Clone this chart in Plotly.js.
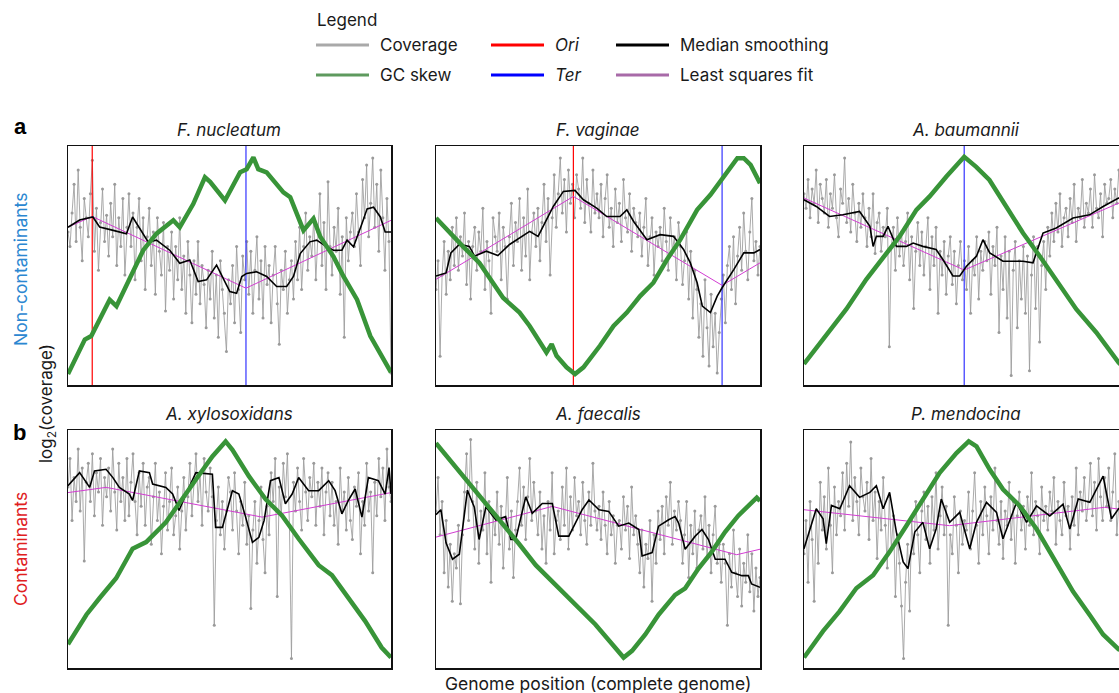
<!DOCTYPE html>
<html><head><meta charset="utf-8">
<script src="https://cdn.plot.ly/plotly-3.0.1.min.js"></script>
<style>html,body{margin:0;padding:0;overflow:hidden;background:#fff}#plot{width:1140px;height:693px}</style>
</head><body><div id="plot"></div>
<script>
// ---------- DATA (genome position 0..1, coverage/skew in relative units 0..100) ----------
const panelNames = ["F. nucleatum","F. vaginae","A. baumannii","A. xylosoxidans","A. faecalis","P. mendocina"];

const coverageNucleatum = [64,58,72,84,60,90,66,52,78,70, 62,80,94,56,74,48,68,82,60,71, 54,76,62,84,50,70,58,78,46,66, 80,58,72,44,66,78,52,70,40,62, 74,50,64,38,70,56,46,68,31,58, 48,64,36,58,44,70,40,54,30,60, 46,26,52,38,60,34,50,42,24,48, 36,56,28,46,20,52,40,30,14,44, 34,50,26,58,40,22,54,44,60,38, 56,30,48,62,36,52,28,58,42,50, 26,46,58,34,17,48,40,56,30,44, 52,36,60,44,66,40,58,72,48,62, 54,70,44,64,80,50,68,40,85,58, 46,66,56,74,38,62,20,70,52,64, 72,58,80,64,50,86,70,92,62,76, 95,66,84,56,90,70,48,78,60,5];
const coverageVaginae = [40,52,12,46,60,38,56,44,66,50, 70,48,62,54,72,42,60,36,58,66, 48,64,56,74,40,60,52,30,70,62, 56,72,44,66,58,36,62,76,50,68, 60,78,48,70,54,82,44,64,72,58, 74,52,68,84,60,78,46,70,88,66, 80,95,72,86,64,90,76,84,70,88, 82,74,95,68,86,76,64,90,72,80, 70,84,62,78,88,66,74,58,82,68, 76,60,86,70,64,80,56,74,68,62, 72,54,66,78,50,62,70,46,64,58, 66,52,74,60,48,70,56,62,44,68, 58,42,52,64,36,56,28,48,40,20, 34,12,44,24,8,38,16,30,5,22, 36,46,26,50,58,40,62,34,54,66, 48,72,56,44,64,78,52,60,46,58];
const coverageBaumannii = [80,74,86,70,82,76,90,68,84,78, 72,86,66,80,74,88,70,62,82,76, 95,68,78,64,84,72,60,76,66,80, 70,58,74,62,80,55,68,72,56,66, 62,74,16,58,66,48,70,54,64,50, 60,72,44,62,32,56,68,50,64,46, 58,70,40,62,50,66,30,56,46,60, 38,54,62,42,56,34,50,60,44,52, 40,58,30,52,46,62,36,56,48,60, 52,64,38,58,50,66,22,54,40,62, 28,56,4,48,60,24,52,36,58,30, 54,6,46,62,32,58,18,50,60,40, 66,54,72,60,76,64,80,58,70,74, 62,78,68,84,60,74,70,86,66,76, 72,82,66,88,74,70,80,62,84,76, 78,86,70,82,76,90,74,84,80,78];
const coverageXylosoxidans = [76,88,62,80,70,92,66,84,45,78, 86,70,90,64,82,74,88,60,80,72, 84,66,92,74,58,86,70,80,62,88, 64,78,90,70,56,82,68,86,60,76, 80,52,72,86,62,74,48,68,82,58, 70,84,56,64,76,50,66,80,58,72, 86,64,78,90,70,82,60,88,74,66, 84,72,18,62,76,56,70,50,66,80, 74,58,82,66,48,70,60,78,52,64, 25,58,70,44,62,76,54,40,68,56, 82,70,88,30,76,64,86,72,90,60, 4,78,66,84,70,58,88,74,62,80, 72,86,60,78,68,84,56,74,82,64, 78,60,70,52,84,66,74,58,80,62, 54,76,68,82,48,70,60,86,66,74, 40,78,64,88,72,84,62,92,76,70];
const coverageFaecalis = [66,80,56,70,40,62,34,52,28,48, 42,60,27,56,74,90,62,96,70,50, 78,44,66,58,82,48,70,36,64,56, 74,52,68,42,60,80,50,66,38,58, 70,84,60,76,54,72,88,62,78,66, 56,74,50,64,44,70,58,82,48,62, 66,54,76,60,84,50,72,58,80,64, 70,56,78,62,52,74,60,86,66,58, 68,54,74,60,48,70,56,64,44,60, 62,50,72,58,68,46,76,56,64,52, 40,58,34,52,46,62,28,56,44,66, 54,68,48,72,60,78,52,66,58,70, 62,44,56,70,38,60,48,66,42,58, 64,50,72,46,60,40,56,68,44,52, 36,52,44,18,48,34,58,40,30,50, 26,44,36,56,32,48,24,42,30,38];
const coverageMendocina = [48,62,36,70,54,28,66,44,78,58, 72,50,84,60,40,76,56,70,64,82, 58,86,68,95,62,80,70,56,84,72, 66,78,54,88,62,74,46,70,58,80, 60,42,72,50,64,30,56,44,26,4, 36,52,24,62,48,70,56,40,66,74, 54,68,44,72,58,82,50,64,76,56, 68,18,56,48,72,60,40,66,52,62, 58,74,50,66,82,60,44,70,56,76, 64,48,72,58,84,62,52,70,46,66, 60,78,54,70,44,64,74,58,68,50, 72,60,82,56,70,64,48,76,62,68, 58,74,66,80,52,70,62,56,78,64, 68,50,72,60,84,56,74,66,80,62, 70,86,64,78,58,88,72,62,80,68, 84,62,74,90,56,70,64,78,60,68];

const medianNucleatum = [[0,66],[.011,67],[.036,69],[.077,70.3],[.098,66.1],[.14,64.7],[.181,63.3],[.2,70.3],[.222,65.4],[.248,59.9],[.274,60.6],[.315,56.4],[.346,50.9],[.377,52.3],[.403,43.3],[.429,44],[.46,50.2],[.501,39.1],[.522,38.4],[.538,45.4],[.553,46.7],[.584,47.4],[.615,45.4],[.646,41.2],[.677,41.2],[.698,45.4],[.719,55],[.749,59.9],[.77,60.6],[.801,57.8],[.822,56.4],[.848,56.4],[.864,60.6],[.884,57.8],[.91,67.5],[.926,73.7],[.946,74.4],[.967,70.3],[.982,64],[1,64]];
const medianVaginae = [[0,45.6],[.031,46.9],[.046,55.3],[.072,58.8],[.103,58],[.119,53.9],[.155,56],[.191,54.2],[.227,58.8],[.258,61.5],[.289,64.3],[.315,62.2],[.341,69.1],[.362,74.7],[.393,81],[.429,81.4],[.455,77.5],[.496,74],[.527,70.5],[.568,70.5],[.589,73.3],[.61,68.4],[.651,60.8],[.692,62.9],[.733,62.2],[.764,56.7],[.785,51.1],[.806,42.8],[.822,33],[.847,30.3],[.868,37.2],[.883,40.7],[.919,48.3],[.95,55.3],[.981,55.3],[1,56.7]];
const medianBaumannii = [[0,77.5],[.038,74.7],[.079,70.5],[.12,71.2],[.172,72.6],[.204,66.4],[.214,58],[.224,62.2],[.245,62.2],[.26,66.4],[.286,58],[.317,58],[.338,59.4],[.368,58],[.409,56.7],[.43,52.5],[.461,45.6],[.482,45.6],[.503,49.7],[.534,53.9],[.554,60.8],[.575,55.3],[.616,51.8],[.678,51.8],[.709,51.1],[.74,63.6],[.781,65.7],[.833,69.9],[.884,71.2],[.926,74.7],[.974,78.2],[1,79]];
const medianXylosoxidans = [[0,76.6],[.036,82.1],[.067,75.9],[.082,82.8],[.118,83.5],[.139,80],[.159,75.9],[.19,73.1],[.2,70.4],[.221,82.8],[.252,82.1],[.262,77.3],[.303,75.9],[.324,73.1],[.344,66.2],[.365,73.1],[.396,82.1],[.447,81.4],[.457,59.1],[.478,59.1],[.509,74.5],[.529,73.1],[.55,63.4],[.571,52.8],[.591,54.9],[.607,61.9],[.627,78.7],[.653,80],[.673,69],[.694,73.1],[.714,80],[.745,74.5],[.776,74.5],[.807,78.7],[.827,74.5],[.848,64.8],[.868,70.4],[.889,75.2],[.91,63.4],[.93,80],[.961,78.7],[.982,73.1],[.994,84.2],[1,73.1]];
const medianFaecalis = [[0,64.4],[.015,66.5],[.031,52.6],[.051,45.7],[.072,47.8],[.097,74.7],[.118,67.7],[.133,54],[.154,67.7],[.185,62.2],[.215,63.6],[.231,54],[.246,54],[.277,71.9],[.297,65],[.328,69.1],[.359,69.1],[.379,55.4],[.41,55.4],[.431,60.9],[.451,66.5],[.472,70.6],[.503,66.5],[.533,65.8],[.564,59.6],[.595,60.9],[.626,58.2],[.636,47.1],[.667,48.5],[.687,59.6],[.718,62.3],[.738,63.6],[.749,60.9],[.769,49.9],[.8,55.4],[.821,58.2],[.841,54],[.862,45.7],[.892,45.7],[.913,40.2],[.944,38.8],[.964,38.8],[.974,35.3],[1,33.9]];
const medianMendocina = [[0,50.1],[.018,58.4],[.038,66.9],[.059,62.7],[.069,52.2],[.085,68.3],[.111,66.9],[.141,76.6],[.172,71.7],[.204,73.8],[.224,76.6],[.245,66.9],[.265,73.8],[.286,57.1],[.307,44.6],[.322,41.8],[.343,57.1],[.368,61.2],[.389,50.1],[.409,58.4],[.425,71],[.451,61.2],[.482,65.4],[.513,50.1],[.534,61.2],[.565,69.6],[.596,65.4],[.616,54.3],[.658,69.6],[.689,61.2],[.72,68.1],[.761,63.9],[.802,68.8],[.823,58.4],[.849,71],[.885,69.6],[.926,80.6],[.952,62.7],[.974,66.9],[1,66]];

const fitNucleatum = [[0,66.1],[.075,70.5],[.551,40.5],[1,68.9]];
const fitVaginae = [[0,44.2],[.424,78.9],[.883,41.7],[1,51.1]];
const fitBaumannii = [[0,78.2],[.496,48.1],[1,77.6]];
const fitXylosoxidans = [[0,73.7],[.118,75.9],[.601,63.4],[1,73.7]];
const fitFaecalis = [[0,55],[.359,67.9],[.928,47.6],[1,49.9]];
const fitMendocina = [[0,66.5],[.451,59.8],[.93,67.5],[1,66.4]];

const gcNucleatum = [[0,4.6],[.052,19],[.072,20.5],[.129,35.7],[.15,33],[.2,46.7],[.233,56.4],[.274,63.3],[.326,68.9],[.346,66],[.388,75.8],[.424,86.9],[.44,85],[.486,77.2],[.512,83.4],[.533,89],[.553,90.3],[.574,95.2],[.589,90.3],[.615,89],[.667,80.6],[.688,78.6],[.729,64.7],[.76,69.6],[.781,62],[.822,53.7],[.853,45.4],[.895,35.7],[.936,20.5],[.977,10.8],[1,5.3]];
const gcVaginae = [[0,69.9],[.052,62.2],[.083,58],[.134,51.1],[.207,36.5],[.258,30.3],[.289,24.7],[.341,13.6],[.357,17.1],[.372,12.2],[.403,7.4],[.429,4.6],[.455,7.4],[.506,16.4],[.548,24.7],[.589,30.3],[.63,37.2],[.671,42.8],[.713,52.5],[.754,60.8],[.806,73.3],[.847,79.6],[.888,87.2],[.93,94.9],[.95,94.9],[.971,92.1],[1,84.4]];
const gcBaumannii = [[0,8.8],[.059,19.2],[.131,31.7],[.193,44.2],[.245,53.2],[.296,62.2],[.348,73.3],[.389,78.9],[.441,87.2],[.472,92.1],[.496,95.5],[.533,91.3],[.574,85.8],[.626,74.7],[.678,63.6],[.73,53.9],[.781,44.2],[.843,31.7],[.905,22],[.974,9.4],[1,6]];
const gcXylosoxidans = [[0,10],[.057,22.4],[.098,29.4],[.149,37.7],[.2,50.1],[.242,52.9],[.303,61.2],[.344,69.5],[.396,79.2],[.447,88.9],[.488,95.2],[.509,91.7],[.56,80.6],[.612,70.9],[.663,64],[.714,54.3],[.776,43.2],[.817,39],[.868,29.4],[.92,19.7],[.971,8.6],[1,4.4]];
const gcFaecalis = [[0,94.5],[.051,86.1],[.103,77.8],[.154,69.5],[.205,61.2],[.256,52.2],[.308,43.2],[.359,36.3],[.4,30.7],[.441,25.2],[.492,18.3],[.544,10],[.579,4.4],[.605,7.2],[.646,14.1],[.687,22.4],[.738,30.7],[.769,33.5],[.81,41.8],[.851,48.8],[.892,57.1],[.933,64],[.974,69.5],[.99,71.6],[1,70.2]];
const gcMendocina = [[0,4.4],[.059,15.5],[.11,23.8],[.162,33.5],[.214,39],[.265,48.8],[.317,59.8],[.368,70.9],[.42,82],[.472,90.3],[.51,95.2],[.534,93.1],[.575,83.4],[.616,75.1],[.668,68.1],[.72,58.4],[.781,44.6],[.833,32.1],[.884,22.4],[.926,14.1],[.974,7.9],[1,6.5]];

const oriPositions = [0.075, 0.424, null, null, null, null];
const terPositions = [0.551, 0.883, 0.496, null, null, null];

const coverageSets = [coverageNucleatum,coverageVaginae,coverageBaumannii,coverageXylosoxidans,coverageFaecalis,coverageMendocina];
const medianSets = [medianNucleatum,medianVaginae,medianBaumannii,medianXylosoxidans,medianFaecalis,medianMendocina];
const fitSets = [fitNucleatum,fitVaginae,fitBaumannii,fitXylosoxidans,fitFaecalis,fitMendocina];
const gcSets = [gcNucleatum,gcVaginae,gcBaumannii,gcXylosoxidans,gcFaecalis,gcMendocina];

// ---------- LAYOUT ----------
const W = 1140, H = 693;
const px = v => v / W, py = v => 1 - v / H;
const colsPx = [[68,391],[436,760],[804,1127]];
const rowsPx = [[146,385],[430,668]];
const FONT = "Inter, Roboto, 'DejaVu Sans', sans-serif";

const traces = [];
const layout = {
  width: W, height: H, margin: {l:0,r:0,t:0,b:0},
  paper_bgcolor: "#fff", plot_bgcolor: "#fff", showlegend: false,
  font: {family: FONT, color: "#1a1a1a"},
  annotations: [], shapes: []
};

for (let i = 0; i < 6; i++) {
  const r = Math.floor(i / 3), c = i % 3;
  const n = i + 1;
  const xa = "x" + (n === 1 ? "" : n), ya = "y" + (n === 1 ? "" : n);
  const axSpec = {showgrid:false, zeroline:false, showticklabels:false, ticks:"", showline:true, mirror:true, linecolor:"#111", linewidth:1.5, fixedrange:true};
  layout["xaxis" + (n === 1 ? "" : n)] = Object.assign({}, axSpec, {domain:[px(colsPx[c][0]), px(colsPx[c][1])], range:[0,1], anchor: ya});
  layout["yaxis" + (n === 1 ? "" : n)] = Object.assign({}, axSpec, {domain:[py(rowsPx[r][1]), py(rowsPx[r][0])], range:[0,100], anchor: xa});

  const cov = coverageSets[i];
  const covX = cov.map((_, k) => k / (cov.length - 1));
  traces.push({x: covX, y: cov, xaxis: xa, yaxis: ya, mode: "lines+markers", type: "scatter",
    line: {color: "rgba(155,155,155,0.85)", width: 1}, marker: {color: "#9a9a9a", size: 3}, hoverinfo: "skip"});
  if (oriPositions[i] !== null) traces.push({x:[oriPositions[i],oriPositions[i]], y:[0,100], xaxis:xa, yaxis:ya, mode:"lines", line:{color:"#ff0000", width:1.2}, hoverinfo:"skip"});
  if (terPositions[i] !== null) traces.push({x:[terPositions[i],terPositions[i]], y:[0,100], xaxis:xa, yaxis:ya, mode:"lines", line:{color:"#3333ff", width:1.2}, hoverinfo:"skip"});
  traces.push({x: fitSets[i].map(p=>p[0]), y: fitSets[i].map(p=>p[1]), xaxis: xa, yaxis: ya, mode:"lines", line:{color:"#d23cd2", width:1}, hoverinfo:"skip"});
  traces.push({x: medianSets[i].map(p=>p[0]), y: medianSets[i].map(p=>p[1]), xaxis: xa, yaxis: ya, mode:"lines", line:{color:"#000", width:1.6}, hoverinfo:"skip"});
  traces.push({x: gcSets[i].map(p=>p[0]), y: gcSets[i].map(p=>p[1]), xaxis: xa, yaxis: ya, mode:"lines", line:{color:"#389438", width:4.5}, hoverinfo:"skip"});

  layout.annotations.push({text: "<i>" + panelNames[i] + "</i>", xref:"paper", yref:"paper",
    x: px((colsPx[c][0] + colsPx[c][1]) / 2), y: py(rowsPx[r][0] - 16), showarrow:false,
    font:{size:17, family:FONT, color:"#1a1a1a"}, xanchor:"center", yanchor:"middle"});
}

// panel letters and side labels
const ann = (text, x, y, opts) => layout.annotations.push(Object.assign({text, xref:"paper", yref:"paper", x:px(x), y:py(y), showarrow:false, xanchor:"center", yanchor:"middle", font:{size:17, family:FONT, color:"#1a1a1a"}}, opts||{}));
ann("<b>a</b>", 20, 126, {font:{size:22, family:"Arial, 'Liberation Sans', sans-serif", color:"#000"}});
ann("<b>b</b>", 19, 432, {font:{size:22, family:"Arial, 'Liberation Sans', sans-serif", color:"#000"}});
ann("Non-contaminants", 20, 270, {textangle:-90, font:{size:17.5, family:FONT, color:"#2b87d1"}});
ann("Contaminants", 20, 549, {textangle:-90, font:{size:17.5, family:FONT, color:"#e0201e"}});
ann("log<sub>2</sub>(coverage)", 48, 404, {textangle:-90, font:{size:17, family:FONT, color:"#1a1a1a"}});
ann("Genome position (complete genome)", 598, 683, {font:{size:17.5, family:FONT, color:"#1a1a1a"}});

// legend
ann("Legend", 315, 20, {xanchor:"left"});
const legendItems = [
  {label:"Coverage", color:"#a9a9a9", x:316, y:45},
  {label:"GC skew", color:"#5e9a5e", x:316, y:75},
  {label:"<i>Ori</i>", color:"#ff0000", x:491, y:45},
  {label:"<i>Ter</i>", color:"#0000ff", x:491, y:75},
  {label:"Median smoothing", color:"#000000", x:616, y:45},
  {label:"Least squares fit", color:"#a86aa8", x:616, y:75}
];
legendItems.forEach(it => {
  layout.shapes.push({type:"line", xref:"paper", yref:"paper", x0:px(it.x), x1:px(it.x+53), y0:py(it.y), y1:py(it.y), line:{color:it.color, width:3}});
  ann(it.label, it.x + 62, it.y, {xanchor:"left", font:{size:17, family:FONT, color:"#1a1a1a"}});
});

Plotly.newPlot("plot", traces, layout, {displayModeBar:false, staticPlot:true});
</script></body></html>
